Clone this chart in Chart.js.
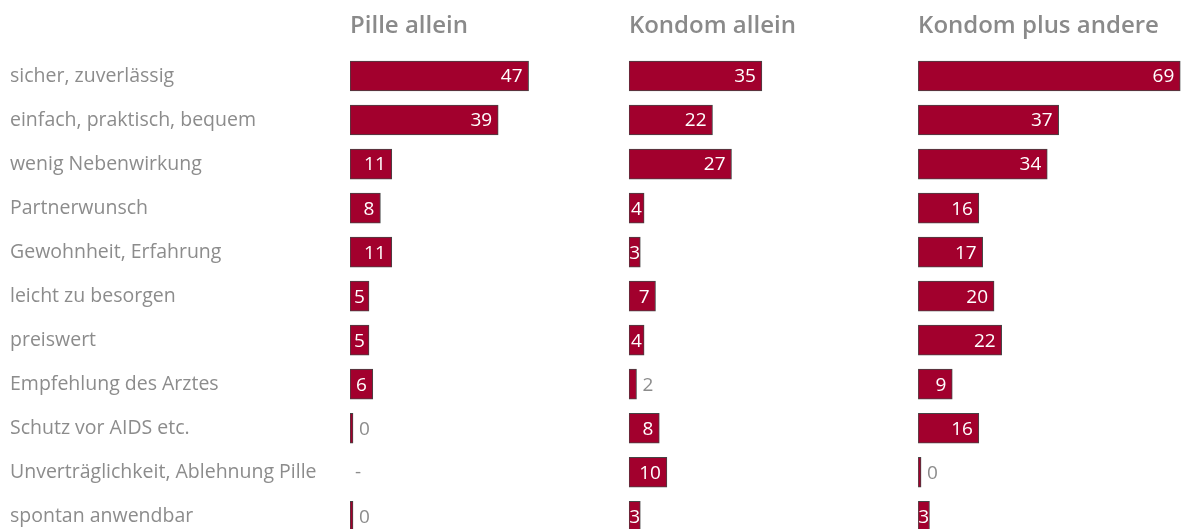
<!DOCTYPE html>
<html lang="de">
<head>
    <meta charset="UTF-8">
    <title>Gründe für die Verhütungsmethode</title>
    <script src="https://cdn.jsdelivr.net/npm/chart.js"></script>
    <style>
        html, body {
            margin: 0;
            padding: 0;
            background: #fff;
            overflow: hidden;
        }

        .chart-box {
            position: relative;
            width: 1181px;
            height: 553px;
        }
    </style>
</head>
<body>
    <div class="chart-box">
        <canvas id="reasonsChart"></canvas>
    </div>

    <script>
        const categories = [
            "sicher, zuverlässig",
            "einfach, praktisch, bequem",
            "wenig Nebenwirkung",
            "Partnerwunsch",
            "Gewohnheit, Erfahrung",
            "leicht zu besorgen",
            "preiswert",
            "Empfehlung des Arztes",
            "Schutz vor AIDS etc.",
            "Unverträglichkeit, Ablehnung Pille",
            "spontan anwendbar"
        ];
        const panelTitles = ["Pille allein", "Kondom allein", "Kondom plus andere"];
        const pilleAllein = [47, 39, 11, 8, 11, 5, 5, 6, 0, null, 0];
        const kondomAllein = [35, 22, 27, 4, 3, 7, 4, 2, 8, 10, 3];
        const kondomPlusAndere = [69, 37, 34, 16, 17, 20, 22, 9, 16, 0, 3];
        // axis ranges, kept proportional so all panels share one scale
        const panelMax = [73.4, 76.1, 69.2];

        const red = "#a2002d";
        const grey = "#8c8c8c";
        const fontFamily = "'Open Sans', 'Noto Sans', sans-serif";

        Chart.defaults.font.family = fontFamily;

        const valueLabels = {
            id: "valueLabels",
            afterDatasetsDraw(chart) {
                const ctx = chart.ctx;
                ctx.save();
                ctx.font = "19px " + fontFamily;
                ctx.textBaseline = "middle";
                chart.data.datasets.forEach((ds, di) => {
                    const meta = chart.getDatasetMeta(di);
                    const xScale = chart.scales[ds.xAxisID];
                    meta.data.forEach((bar, i) => {
                        const v = ds.data[i];
                        const y = chart.scales.y.getPixelForValue(i);
                        if (v === null) {
                            ctx.fillStyle = grey;
                            ctx.textAlign = "left";
                            ctx.fillText("-", xScale.left + 5, y);
                            return;
                        }
                        const txt = String(v);
                        const tw = ctx.measureText(txt).width;
                        const w = bar.x - bar.base;
                        if (w >= tw + 9) {
                            ctx.fillStyle = "#fff";
                            ctx.textAlign = "right";
                            ctx.fillText(txt, bar.x - 6, y + 1);
                        } else if (v >= 3) {
                            ctx.fillStyle = "#fff";
                            ctx.textAlign = "center";
                            ctx.fillText(txt, (bar.x + bar.base) / 2, y + 1);
                        } else {
                            ctx.fillStyle = grey;
                            ctx.textAlign = "left";
                            ctx.fillText(txt, bar.x + 6, y + 1);
                        }
                    });
                });
                ctx.restore();
            }
        };

        const panelHeaders = {
            id: "panelHeaders",
            afterDraw(chart) {
                const ctx = chart.ctx;
                ctx.save();
                ctx.font = "600 24px " + fontFamily;
                ctx.fillStyle = "#8a8a8a";
                ctx.textAlign = "left";
                ctx.textBaseline = "middle";
                ["x1", "x2", "x3"].forEach((id, k) => {
                    ctx.fillText(panelTitles[k], chart.scales[id].left, 26);
                });
                ctx.restore();
            }
        };

        function xAxis(max) {
            return {
                type: "linear",
                position: "bottom",
                stack: "panels",
                stackWeight: max,
                min: 0,
                max: max,
                display: false,
                grid: { display: false }
            };
        }

        function barSet(label, values, axisId) {
            return {
                label: label,
                data: values,
                xAxisID: axisId,
                yAxisID: "y",
                backgroundColor: red,
                borderColor: "#444",
                borderWidth: 1,
                borderSkipped: false,
                barThickness: 30,
                minBarLength: 3,
                grouped: false
            };
        }

        new Chart(document.getElementById("reasonsChart"), {
            type: "bar",
            data: {
                labels: categories,
                datasets: [
                    barSet(panelTitles[0], pilleAllein, "x1"),
                    barSet(panelTitles[1], kondomAllein, "x2"),
                    barSet(panelTitles[2], kondomPlusAndere, "x3")
                ]
            },
            options: {
                indexAxis: "y",
                responsive: true,
                maintainAspectRatio: false,
                animation: false,
                layout: { padding: { top: 54, left: 10, right: 0, bottom: 0 } },
                scales: {
                    x1: xAxis(panelMax[0]),
                    x2: xAxis(panelMax[1]),
                    x3: xAxis(panelMax[2]),
                    y: {
                        type: "category",
                        grid: { display: false },
                        border: { display: false },
                        ticks: {
                            crossAlign: "far",
                            color: grey,
                            font: { size: 19.5 }
                        },
                        afterFit(scale) {
                            scale.width = 340;
                        }
                    }
                },
                plugins: {
                    legend: { display: false },
                    tooltip: { enabled: false }
                }
            },
            plugins: [valueLabels, panelHeaders]
        });
    </script>
</body>
</html>
